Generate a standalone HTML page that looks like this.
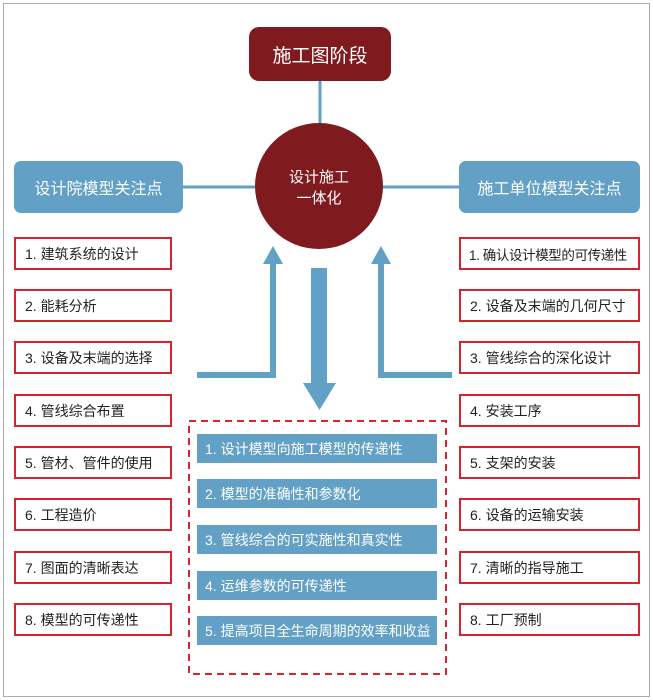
<!DOCTYPE html>
<html><head><meta charset="utf-8"><style>
body{margin:0;width:653px;height:700px;background:#fff;position:relative;overflow:hidden;font-family:"Liberation Sans","Noto Sans CJK SC",sans-serif}
.a{position:absolute;box-sizing:border-box}
.r{border:2px solid #d3242f;background:#fff;font-size:14px;color:#222;padding-left:9px;display:flex;align-items:center;height:33px;white-space:nowrap}
.b{background:#62a0c6;color:#fff;font-size:14px;padding-left:8px;display:flex;align-items:center;height:29px;left:197px;width:240px;white-space:nowrap}
.h{background:#62a0c6;color:#fff;font-size:16px;border-radius:7px;display:flex;align-items:center;justify-content:center;height:52px;top:161px}
</style></head><body>
<div class="a" style="left:3px;top:3px;width:647px;height:694px;border:1.5px solid #aaa"></div>
<svg class="a" style="left:0;top:0" width="653" height="700">
<line x1="320" y1="80" x2="320" y2="130" stroke="#62a0c6" stroke-width="3"/>
<line x1="183" y1="187" x2="460" y2="187" stroke="#62a0c6" stroke-width="3"/>
<ellipse cx="319" cy="186" rx="64" ry="63" fill="#7f1a1f"/>
<text x="319" y="182" fill="#fff" font-size="15" text-anchor="middle" font-family="Liberation Sans,Noto Sans CJK SC,sans-serif">设计施工</text>
<text x="319" y="203" fill="#fff" font-size="15" text-anchor="middle" font-family="Liberation Sans,Noto Sans CJK SC,sans-serif">一体化</text>
<polyline points="197,375 273,375 273,262" fill="none" stroke="#62a0c6" stroke-width="6"/>
<polygon points="263,264 283,264 273,246" fill="#62a0c6"/>
<polyline points="452,375 381,375 381,262" fill="none" stroke="#62a0c6" stroke-width="6"/>
<polygon points="371,264 391,264 381,246" fill="#62a0c6"/>
<rect x="311" y="268" width="16" height="116" fill="#62a0c6"/>
<polygon points="303,383 336,383 319.5,410" fill="#62a0c6"/>
<rect x="189" y="421" width="257" height="253" fill="none" stroke="#d3242f" stroke-width="2" stroke-dasharray="7,5"/>
</svg>
<div class="a" style="left:249px;top:27px;width:142px;height:54px;background:#7f1a1f;border-radius:10px;color:#fff;font-size:19px;display:flex;align-items:center;justify-content:center">施工图阶段</div>
<div class="a h" style="left:14px;width:169px">设计院模型关注点</div>
<div class="a h" style="left:459px;width:181px">施工单位模型关注点</div>
<div class="a r" style="left:14px;width:158px;top:237px">1. 建筑系统的设计</div>
<div class="a r" style="left:14px;width:158px;top:289px">2. 能耗分析</div>
<div class="a r" style="left:14px;width:158px;top:341px">3. 设备及末端的选择</div>
<div class="a r" style="left:14px;width:158px;top:394px">4. 管线综合布置</div>
<div class="a r" style="left:14px;width:158px;top:446px">5. 管材、管件的使用</div>
<div class="a r" style="left:14px;width:158px;top:498px">6. 工程造价</div>
<div class="a r" style="left:14px;width:158px;top:551px">7. 图面的清晰表达</div>
<div class="a r" style="left:14px;width:158px;top:603px">8. 模型的可传递性</div>
<div class="a r" style="left:459px;width:181px;top:237px;padding-left:8px;font-size:13.5px;letter-spacing:-0.4px">1. 确认设计模型的可传递性</div>
<div class="a r" style="left:459px;width:181px;top:289px">2. 设备及末端的几何尺寸</div>
<div class="a r" style="left:459px;width:181px;top:341px">3. 管线综合的深化设计</div>
<div class="a r" style="left:459px;width:181px;top:394px">4. 安装工序</div>
<div class="a r" style="left:459px;width:181px;top:446px">5. 支架的安装</div>
<div class="a r" style="left:459px;width:181px;top:498px">6. 设备的运输安装</div>
<div class="a r" style="left:459px;width:181px;top:551px">7. 清晰的指导施工</div>
<div class="a r" style="left:459px;width:181px;top:603px">8. 工厂预制</div>
<div class="a b" style="top:434px">1. 设计模型向施工模型的传递性</div>
<div class="a b" style="top:479px">2. 模型的准确性和参数化</div>
<div class="a b" style="top:525px">3. 管线综合的可实施性和真实性</div>
<div class="a b" style="top:571px">4. 运维参数的可传递性</div>
<div class="a b" style="top:616px">5. 提高项目全生命周期的效率和收益</div>
</body></html>
